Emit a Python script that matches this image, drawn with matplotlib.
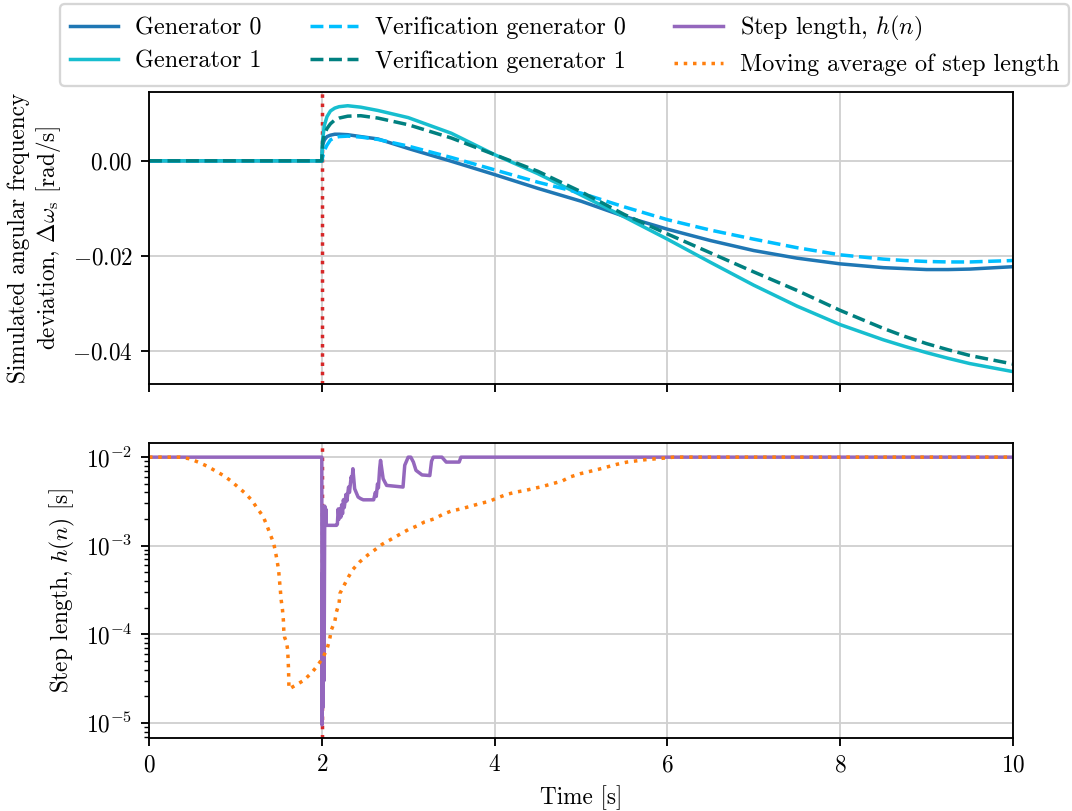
import numpy as np
import matplotlib
matplotlib.use('Agg')
import matplotlib.pyplot as plt

plt.rcParams['font.family'] = 'serif'
plt.rcParams['font.serif'] = ['cmr10']
plt.rcParams['mathtext.fontset'] = 'cm'
plt.rcParams['axes.formatter.use_mathtext'] = True
plt.rcParams['font.size'] = 10

# simulated frequency deviation [rad/s]
t_sim = [0, 2.0, 2.01, 2.03, 2.06, 2.1, 2.15, 2.2, 2.3, 2.45, 2.65, 3.0, 3.5,
         4.0, 4.5, 5.0, 5.5, 6.0, 6.5, 7.0, 7.5, 8.0, 8.5, 8.75, 9.0, 9.25, 9.5, 10.0]
gen0 = [0, 0, 0.0034, 0.0044, 0.0051, 0.0054, 0.0056, 0.0056, 0.0055, 0.0051,
        0.0046, 0.0026, -0.0001, -0.0029, -0.0058, -0.0085, -0.0117, -0.0144,
        -0.0168, -0.0189, -0.0205, -0.0217, -0.0225, -0.0227, -0.0229, -0.0229,
        -0.0228, -0.0223]
gen1 = [0, 0, 0.0045, 0.0075, 0.0093, 0.0105, 0.0111, 0.0114, 0.0116, 0.0113,
        0.0106, 0.0091, 0.0058, 0.0013, -0.0027, -0.0072, -0.0118, -0.0165,
        -0.0214, -0.0262, -0.0306, -0.0345, -0.0377, -0.0391, -0.0404, -0.0416,
        -0.0427, -0.0444]
ver0 = [0, 0, 0.0008, 0.0022, 0.0033, 0.0044, 0.0049, 0.0051, 0.0052, 0.0050,
        0.0045, 0.0031, 0.0007, -0.0019, -0.0045, -0.0068, -0.0097, -0.0124,
        -0.0146, -0.0165, -0.0183, -0.0198, -0.0207, -0.0210, -0.0212, -0.0213,
        -0.0213, -0.0210]
ver1 = [0, 0, 0.0040, 0.0055, 0.0068, 0.0078, 0.0086, 0.0090, 0.0094, 0.0095,
        0.0090, 0.0076, 0.0048, 0.0013, -0.0022, -0.0065, -0.0113, -0.0154,
        -0.0194, -0.0234, -0.0273, -0.0315, -0.0353, -0.0370, -0.0385, -0.0398,
        -0.0410, -0.0428]

# step length h(n) [s]
t_step = [0, 2.0, 2.002, 2.010, 2.014, 2.022, 2.026, 2.034, 2.040, 2.046, 2.052,
          2.17, 2.18, 2.19, 2.20, 2.21, 2.22, 2.23, 2.24, 2.25, 2.26, 2.28, 2.29,
          2.31, 2.32, 2.34, 2.35, 2.36, 2.38, 2.42, 2.45, 2.48, 2.60, 2.62, 2.63,
          2.645, 2.655, 2.67, 2.68, 2.71, 2.75, 2.94, 2.96, 3.0, 3.03, 3.06, 3.09,
          3.16, 3.25, 3.27, 3.29, 3.39, 3.44, 3.59, 3.61, 10.0]
h_step = [1e-2, 1e-2, 9.5e-6, 5e-4, 1.5e-5, 1e-3, 3e-5, 2.8e-3, 1.8e-3, 2.6e-3, 1.7e-3,
          1.7e-3, 1.75e-3, 2.6e-3, 2.0e-3, 2.6e-3, 2.1e-3, 2.9e-3, 2.3e-3, 3.3e-3,
          2.7e-3, 3.8e-3, 3.2e-3, 4.6e-3, 4.0e-3, 6.0e-3, 5.5e-3, 7.4e-3, 4.4e-3,
          3.55e-3, 3.4e-3, 3.3e-3, 3.3e-3, 4.0e-3, 3.6e-3, 5.0e-3, 4.5e-3, 7.5e-3,
          9.2e-3, 5.7e-3, 4.8e-3, 4.6e-3, 8.1e-3, 1e-2, 1e-2, 8.8e-3, 7.1e-3,
          6.3e-3, 6.2e-3, 9e-3, 1e-2, 1e-2, 8.8e-3, 8.8e-3, 1e-2, 1e-2]

# moving average of step length [s]
t_avg = [0, 0.36, 0.47, 0.57, 0.67, 0.76, 0.86, 0.94, 1.03, 1.11, 1.19, 1.25, 1.32,
         1.36, 1.40, 1.44, 1.46, 1.48, 1.50, 1.51, 1.52, 1.53, 1.545, 1.555, 1.56,
         1.57, 1.59, 1.605, 1.61, 1.615, 1.62, 1.69, 1.79, 1.88, 1.95, 2.01, 2.06,
         2.09, 2.11, 2.15, 2.17, 2.20, 2.21, 2.26, 2.31, 2.36, 2.44, 2.53, 2.62,
         2.70, 2.80, 2.90, 3.00, 3.10, 3.19, 3.30, 3.40, 3.50, 3.62, 3.72, 3.83,
         3.94, 4.04, 4.14, 4.25, 4.36, 4.47, 4.53, 4.78, 4.87, 4.99, 5.2, 5.41,
         5.53, 5.74, 5.96, 6.07, 10.0]
h_avg = [1e-2, 1e-2, 9.59e-3, 8.79e-3, 7.93e-3, 7.08e-3, 6.22e-3, 5.47e-3, 4.60e-3,
         3.94e-3, 3.26e-3, 2.67e-3, 2.15e-3, 1.74e-3, 1.37e-3, 1.09e-3, 8.91e-4,
         7.02e-4, 5.32e-4, 4.10e-4, 3.17e-4, 2.44e-4, 1.89e-4, 1.46e-4, 1.12e-4,
         9.2e-5, 8.3e-5, 6.7e-5, 5.2e-5, 4.0e-5, 2.42e-5, 2.64e-5, 3.02e-5, 3.66e-5,
         4.43e-5, 5.40e-5, 6.81e-5, 8.67e-5, 1.12e-4, 1.39e-4, 1.80e-4, 2.24e-4,
         2.90e-4, 3.61e-4, 4.47e-4, 5.41e-4, 6.59e-4, 7.83e-4, 9.08e-4, 1.04e-3,
         1.18e-3, 1.34e-3, 1.52e-3, 1.67e-3, 1.86e-3, 2.01e-3, 2.26e-3, 2.47e-3,
         2.62e-3, 2.79e-3, 2.99e-3, 3.18e-3, 3.49e-3, 3.80e-3, 4.04e-3, 4.22e-3,
         4.48e-3, 4.60e-3, 5.37e-3, 5.96e-3, 6.50e-3, 7.28e-3, 8.28e-3, 8.79e-3,
         9.35e-3, 9.75e-3, 1e-2, 1e-2]

t_fault = 2.0

fig = plt.figure(figsize=(6.4, 4.842), dpi=167.5)
ax1 = fig.add_axes([149 / 1072, 1 - 384 / 811, 864 / 1072, 292 / 811])
ax2 = fig.add_axes([149 / 1072, 1 - 738 / 811, 864 / 1072, 295 / 811], sharex=ax1)

for ax in (ax1, ax2):
    ax.axvline(t_fault, color='tab:red', ls=':', lw=1.5)
    ax.grid(True, color='#d0d0d0', lw=0.8)
    ax.set_axisbelow(True)

l_g0, = ax1.plot(t_sim, gen0, color='tab:blue', lw=1.5, label='Generator 0')
l_g1, = ax1.plot(t_sim, gen1, color='tab:cyan', lw=1.5, label='Generator 1')
l_v0, = ax1.plot(t_sim, ver0, color='deepskyblue', ls='--', lw=1.5,
                 label='Verification generator 0')
l_v1, = ax1.plot(t_sim, ver1, color='teal', ls='--', lw=1.5,
                 label='Verification generator 1')
ax1.set_ylim(-0.047, 0.0145)
ax1.set_yticks([0.0, -0.02, -0.04])
ax1.set_ylabel('Simulated angular frequency\ndeviation, $\\Delta\\omega_\\mathrm{s}$ [rad/s]')
ax1.tick_params(labelbottom=False)

l_h, = ax2.plot(t_step, h_step, color='tab:purple', lw=1.5, label='Step length, $h(n)$')
l_ma, = ax2.plot(t_avg, h_avg, color='tab:orange', ls=':', lw=1.5,
                 label='Moving average of step length')
ax2.set_yscale('log')
ax2.set_ylim(10 ** -5.17, 10 ** -1.84)
ax2.set_xlim(0, 10)
ax2.set_xticks([0, 2, 4, 6, 8, 10])
ax2.set_ylabel('Step length, $h(n)$ [s]')
ax2.set_xlabel('Time [s]')

fig.legend(handles=[l_g0, l_g1, l_v0, l_v1, l_h, l_ma], ncol=3, fontsize=10.4,
           columnspacing=2.0, labelspacing=0.45, handletextpad=0.7,
           borderaxespad=0.0, loc='upper left',
           bbox_to_anchor=(60 / 1072, 1 - 4 / 811))

fig.savefig('out.png', dpi=167.5)
